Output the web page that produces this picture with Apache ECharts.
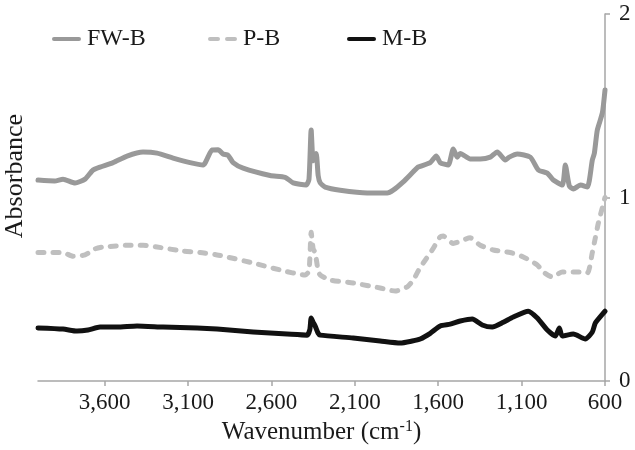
<!DOCTYPE html>
<html>
<head>
<meta charset="utf-8">
<script src="https://cdn.jsdelivr.net/npm/echarts@6/dist/echarts.min.js"></script>
<style>html,body{margin:0;padding:0;background:#fff}#c{width:635px;height:450px}</style>
</head>
<body>
<div id="c"></div>
<script>
const seriesNames = ['FW-B', 'P-B', 'M-B'];
const xTicks = [600, 1100, 1600, 2100, 2600, 3100, 3600];
const yTicks = [0, 1, 2];

const fwbWave = [4000,3900,3850,3778,3718,3670,3628,3550,3466,3370,3286,3190,3088,3010,2956,2920,2890,2860,2830,2770,2608,2518,2470,2392,2375,2362,2350,2332,2320,2308,2278,2188,2026,1906,1870,1810,1750,1720,1648,1612,1588,1540,1510,1486,1468,1408,1348,1288,1246,1198,1174,1126,1048,1000,946,910,856,838,814,790,748,706,676,664,646,616,600];
const fwbAbs  = [1.095,1.09,1.10,1.079,1.10,1.15,1.166,1.19,1.226,1.248,1.242,1.215,1.19,1.177,1.259,1.26,1.237,1.23,1.19,1.16,1.12,1.11,1.08,1.068,1.10,1.368,1.20,1.24,1.12,1.08,1.057,1.04,1.025,1.025,1.04,1.085,1.14,1.166,1.19,1.226,1.19,1.177,1.264,1.22,1.24,1.21,1.21,1.22,1.248,1.204,1.22,1.237,1.22,1.15,1.133,1.095,1.068,1.177,1.063,1.046,1.068,1.057,1.204,1.24,1.368,1.46,1.586];

const pbWave = [4000,3910,3850,3790,3718,3658,3610,3448,3370,3286,3130,3028,2926,2866,2710,2548,2398,2375,2362,2350,2338,2320,2308,2248,2110,1948,1858,1786,1750,1708,1690,1636,1588,1570,1510,1408,1348,1270,1168,1090,1006,970,916,856,766,706,676,658,640,600];
const pbAbs  = [0.70,0.70,0.70,0.68,0.687,0.72,0.73,0.74,0.74,0.73,0.708,0.70,0.687,0.676,0.643,0.605,0.578,0.60,0.81,0.72,0.70,0.60,0.578,0.55,0.534,0.507,0.49,0.513,0.55,0.62,0.643,0.714,0.786,0.79,0.75,0.78,0.74,0.714,0.70,0.676,0.632,0.594,0.567,0.594,0.594,0.589,0.70,0.78,0.86,1.0];

const mbWave = [4000,3850,3766,3700,3628,3526,3406,3250,3046,2926,2710,2506,2386,2370,2362,2350,2338,2320,2308,2110,1948,1828,1756,1708,1648,1588,1528,1468,1396,1336,1276,1210,1150,1060,1006,946,898,874,856,790,718,676,658,610,600];
const mbAbs  = [0.289,0.283,0.272,0.278,0.294,0.294,0.30,0.294,0.289,0.283,0.267,0.256,0.25,0.28,0.343,0.32,0.30,0.26,0.25,0.234,0.218,0.207,0.218,0.229,0.26,0.30,0.31,0.327,0.338,0.305,0.294,0.32,0.349,0.38,0.343,0.278,0.245,0.289,0.245,0.256,0.229,0.267,0.316,0.37,0.38];

const zip = (a, b) => a.map((v, i) => [v, b[i]]);
const fmt = v => String(v).replace(/\B(?=(\d{3})+(?!\d))/g, ',');
const FONT = 'Liberation Serif';
const TXT = '#1a1a1a';
const AXIS = '#a6a6a6';
const COLORS = ['#999999', '#bfbfbf', '#111111'];
const SOLID_ICON = 'path://M2,0H27A2,2 0 0 1 27,4H2A2,2 0 0 1 2,0Z';
const DASH_ICON = 'path://M2,0H10A2,2 0 0 1 10,4H2A2,2 0 0 1 2,0Z M19,0H27A2,2 0 0 1 27,4H19A2,2 0 0 1 19,0Z';

const chart = echarts.init(document.getElementById('c'));
const legendBase = {
  top: 22, itemWidth: 29, itemHeight: 5, itemGap: 0,
  textStyle: { fontFamily: FONT, fontSize: 24, color: TXT, padding: [0, 0, 0, 1] },
  selectedMode: false
};
chart.setOption({
  animation: false,
  grid: { left: 38, right: 30, top: 14, bottom: 69 },
  legend: [
    Object.assign({}, legendBase, { left: 47, data: [{ name: seriesNames[0], icon: SOLID_ICON }] }),
    Object.assign({}, legendBase, { left: 203, data: [{ name: seriesNames[1], icon: DASH_ICON }] }),
    Object.assign({}, legendBase, { left: 342, data: [{ name: seriesNames[2], icon: SOLID_ICON }] })
  ],
  xAxis: {
    type: 'value', inverse: true, min: 600, max: 4000, interval: 500,
    name: 'Wavenumber (cm{sup|-1})', nameLocation: 'middle', nameGap: 38,
    nameTextStyle: {
      fontFamily: FONT, fontSize: 25, color: TXT,
      rich: { sup: { fontFamily: FONT, fontSize: 16, verticalAlign: 'top', padding: [0, 0, 10, 0], color: TXT } }
    },
    axisLine: { show: true, lineStyle: { color: AXIS, width: 1.5 } },
    axisTick: { show: true, length: 5, lineStyle: { color: AXIS, width: 1.5 }, customValues: xTicks },
    axisLabel: { customValues: xTicks, formatter: v => fmt(v), fontFamily: FONT, fontSize: 23, color: TXT, margin: 10 },
    splitLine: { show: false }
  },
  yAxis: {
    type: 'value', position: 'right', min: 0, max: 2, interval: 1,
    axisLine: { show: true, lineStyle: { color: AXIS, width: 1.5 } },
    axisTick: { show: true, length: 5, lineStyle: { color: AXIS, width: 1.5 }, customValues: yTicks },
    axisLabel: { customValues: yTicks, fontFamily: FONT, fontSize: 23, color: TXT, margin: 14 },
    splitLine: { show: false }
  },
  graphic: [{
    type: 'text', left: 2, top: 114, rotation: Math.PI / 2,
    style: { text: 'Absorbance', font: '26px "Liberation Serif"', fill: TXT }
  }],
  series: [
    { name: seriesNames[0], type: 'line', data: zip(fwbWave, fwbAbs), symbol: 'none', smooth: 0.2,
      lineStyle: { color: COLORS[0], width: 5, cap: 'round', join: 'round' }, itemStyle: { color: COLORS[0] } },
    { name: seriesNames[1], type: 'line', data: zip(pbWave, pbAbs), symbol: 'none', smooth: 0.2,
      lineStyle: { color: COLORS[1], width: 5, type: [6, 9], cap: 'round', join: 'round' }, itemStyle: { color: COLORS[1] } },
    { name: seriesNames[2], type: 'line', data: zip(mbWave, mbAbs), symbol: 'none', smooth: 0.2,
      lineStyle: { color: COLORS[2], width: 5, cap: 'round', join: 'round' }, itemStyle: { color: COLORS[2] } }
  ]
});
</script>
</body>
</html>
